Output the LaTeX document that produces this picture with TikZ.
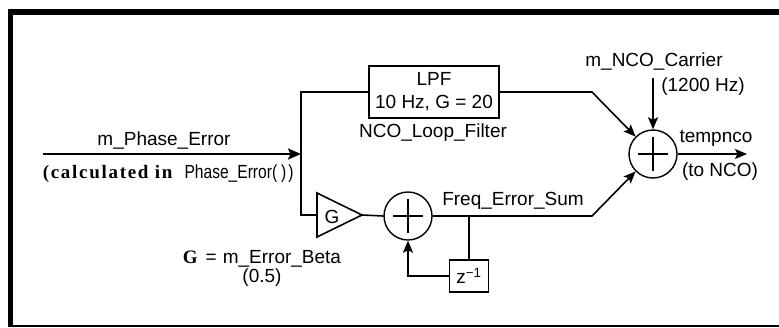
\documentclass[tikz,border=0pt]{standalone}
\usepackage{fontspec}
\setmainfont{Liberation Sans}
\newfontfamily\bserif{Liberation Serif}[LetterSpace=9]
\newfontfamily\bserifG{Liberation Serif}
\newfontfamily\narrowsans{Liberation Sans}[FakeStretch=0.82]
\usetikzlibrary{arrows.meta}
\begin{document}
\begin{tikzpicture}[x=1pt,y=-1pt,
  line width=1.6pt,
  lbl/.style={font=\fontsize{19}{22}\selectfont, inner sep=0pt},
  sumnode/.style={circle, draw, line width=1.4pt, minimum size=48pt, inner sep=0pt,
    path picture={\draw[line width=1.4pt] ([xshift=-15pt]path picture bounding box.center) -- ([xshift=15pt]path picture bounding box.center);
                  \draw[line width=1.4pt] ([yshift=-17pt]path picture bounding box.center) -- ([yshift=17pt]path picture bounding box.center);}},
  blockbox/.style={draw, rectangle, line width=1.5pt, inner sep=0pt, align=center, font=\fontsize{19}{23}\selectfont},
  arr/.style={-{Stealth[length=12pt,width=10pt,inset=2.5pt]}},
]
\useasboundingbox (0,0) rectangle (779,327);
% frame
\draw[line width=6pt] (8,12) -- (779,12);
\draw[line width=5pt] (10.5,9) -- (10.5,327);
\draw[line width=2pt] (8,326) -- (779,326);

% blocks
\node[sumnode] (s1) at (408,216) {};
\node[sumnode] (s2) at (653,154) {};
\node[blockbox, minimum width=130pt, minimum height=52pt] (lpf) at (434,92) {LPF\\10 Hz, G = 20};
\node[blockbox, minimum width=39pt, minimum height=32pt] (zd) at (469,276) {z\textsuperscript{\char"2212 1}};
\draw (317,193) -- (362,215) -- (317,237) -- cycle;
\node[lbl] (gl) at (332,217) {G};
\coordinate (gin) at (317,215);
\coordinate (gout) at (362,215);

% connectors
\coordinate (in0) at (43,154);
\coordinate (j) at (301,154);
\draw[line width=2.4pt, -{Stealth[length=13pt,width=11pt,inset=2.5pt]}] (in0) -- (j);
\draw (j) |- (lpf.west);
\draw (j) |- (gin);
\draw (gout) -- (s1.west);
\coordinate (b1) at (592,92);
\coordinate (b2) at (592,216);
\draw[arr] (lpf.east) -- (b1) -- (s2.135);
\draw[arr] (s1.east) -- (b2) -- (s2.225);
\coordinate (c0) at (653,78);
\draw[arr] (c0) -- (s2.north);
\coordinate (o1) at (747,154);
\draw[arr] (s2.east) -- (o1);
\coordinate (tap) at (469,216);
\draw (tap) -- (zd.north);
\draw[arr] (zd.west) -| (s1.south);

% labels
\node[lbl] (t1) at (164,141) {m\_Phase\_Error};
\node[lbl, anchor=west] (t2) at (42,174) {{\bserif\bfseries (calculated in}\hspace{12pt}{\narrowsans Phase\_Error(\hspace{4pt})\hspace{2pt})}};
\node[lbl] (t3) at (433,133) {NCO\_Loop\_Filter};
\node[lbl] (t4) at (654,62) {m\_NCO\_Carrier};
\node[lbl] (t5) at (703,87) {(1200 Hz)};
\node[lbl] (t6) at (716,138) {tempnco};
\node[lbl] (t7) at (720,172) {(to NCO)};
\node[lbl] (t8) at (513,201) {Freq\_Error\_Sum};
\node[lbl] (t9) at (262,259) {{\bserifG\bfseries G}\hspace{8pt}=\hspace{6pt}m\_Error\_Beta};
\node[lbl] (t10) at (262,278) {(0.5)};
\end{tikzpicture}
\end{document}
